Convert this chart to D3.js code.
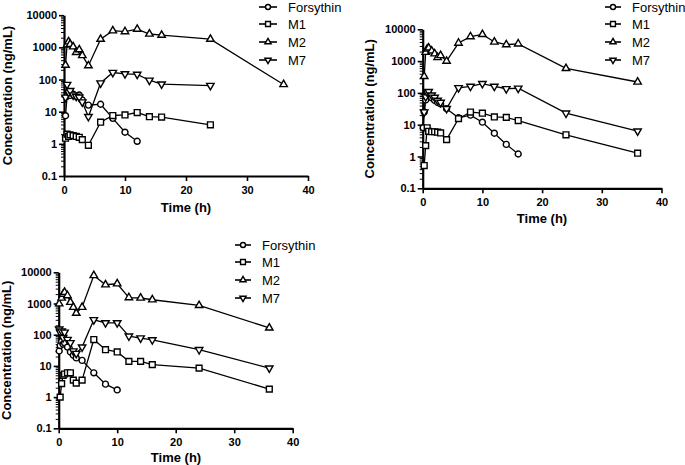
<!DOCTYPE html>
<html><head><meta charset="utf-8">
<script src="https://cdn.jsdelivr.net/npm/d3@7"></script>
<style>body{margin:0;background:#fff}svg{display:block}</style>
</head><body>
<svg id="c" width="685" height="465"></svg>
<script>
// ---- data (time h, concentration ng/mL) ----
const seriesNames = ["Forsythin","M1","M2","M7"];
const xTicks = [0,10,20,30,40];
const yTicks = [0.1,1,10,100,1000,10000];
const yTickLabels = ["0.1","1","10","100","1000","10000"];
const xTitle = "Time (h)";
const yTitle = "Concentration (ng/mL)";

const p1Forsythin = [[0.25,7.5],[0.5,30],[0.75,40],[1,32],[1.5,35],[2,30],[2.5,33],[3,23],[4,16],[6,17],[8,6.2],[10,2.3],[12,1.2]];
const p1M1 = [[0.25,1.5],[0.5,2.0],[0.75,1.7],[1,1.9],[1.5,1.8],[2,1.7],[2.5,1.6],[3,1.35],[4,0.9],[6,4.7],[8,7.6],[10,7.9],[12,9.4],[14,7],[16,6.8],[24,3.9]];
const p1M2 = [[0.25,280],[0.5,1200],[0.75,1500],[1,1250],[1.5,1050],[2,700],[2.5,850],[3,560],[4,270],[6,1800],[8,3300],[10,3100],[12,3700],[14,2600],[16,2400],[24,1800],[36,70]];
const p1M7 = [[0.25,28],[0.5,70],[0.75,40],[1,45],[1.5,33],[2,30],[2.5,28],[3,20],[4,7],[6,78],[8,165],[10,150],[12,145],[14,95],[16,72],[24,65]];

const p2Forsythin = [[0.083,8],[0.25,25],[0.5,60],[0.75,85],[1,95],[1.5,70],[2,58],[2.5,50],[3,45],[4,32],[6,16.5],[8,20],[10,12],[12,5.4],[14,2.4],[16,1.2]];
const p2M1 = [[0.25,0.52],[0.5,2.2],[0.75,8],[1,6.2],[1.5,6],[2,6],[2.5,5.8],[3,5.5],[4,3.4],[6,15.5],[8,25],[10,23],[12,17.5],[14,17],[16,13.5],[24,4.8],[36,1.27]];
const p2M2 = [[0.25,330],[0.5,1900],[0.75,2400],[1,2600],[1.5,2100],[2,1700],[2.5,1300],[3,1500],[4,1000],[6,3700],[8,5900],[10,6900],[12,4000],[14,3300],[16,3500],[24,590],[36,220]];
const p2M7 = [[0.25,25],[0.5,75],[0.75,105],[1,110],[1.5,85],[2,72],[2.5,58],[3,50],[4,32],[6,145],[8,160],[10,195],[12,160],[14,135],[16,140],[24,23],[36,6.3]];

const p3Forsythin = [[0.083,30],[0.25,45],[0.5,60],[0.75,50],[1,55],[1.5,40],[2,28],[2.5,22],[3,18],[4,15],[6,6],[8,2.6],[10,1.7]];
const p3M1 = [[0.25,1.0],[0.5,2.7],[0.75,5],[1,5.5],[1.5,6],[2,6],[2.5,3.5],[3,2.8],[4,3.5],[6,70],[8,33],[10,28],[12,14],[14,14],[16,11],[24,8.5],[36,1.8]];
const p3M2 = [[0.083,980],[0.5,1500],[0.75,2000],[1,2300],[1.5,1800],[2,1100],[2.5,760],[3,490],[4,760],[6,7900],[8,4000],[10,4300],[12,1550],[14,1500],[16,1320],[24,870],[36,165]];
const p3M7 = [[0.083,150],[0.25,120],[0.5,130],[0.75,80],[1,120],[1.5,70],[2,55],[2.5,30],[3,25],[4,40],[6,300],[8,240],[10,240],[12,90],[14,78],[16,68],[24,33],[36,8.5]];

// ---- layout ----
const panels = [
  {x0:64, x1:308, yTop:15.2, yBot:176, series:[p1Forsythin,p1M1,p1M2,p1M7],
   yLab:[7,95.5], xLab:[186,212], leg:{x:259, w:18, tx:288, y:[7,24,42,60]}},
  {x0:422.7, x1:661.5, yTop:29.3, yBot:188.3, series:[p2Forsythin,p2M1,p2M2,p2M7],
   yLab:[369.5,108.8], xLab:[542,223], leg:{x:605, w:16, tx:632, y:[7,24,42,60]}},
  {x0:58.7, x1:292.7, yTop:272.3, yBot:428.3, series:[p3Forsythin,p3M1,p3M2,p3M7],
   yLab:[6.5,350.3], xLab:[176,462], leg:{x:235, w:16, tx:262, y:[245,262,280,298]}}
];
const symTypes = [d3.symbolCircle, d3.symbolSquare, d3.symbolTriangle, d3.symbolTriangle];
const symSizes = [28, 34, 24, 24];
const font = "'Liberation Sans', Arial, Helvetica, sans-serif";

const svg = d3.select("#c");

function marker(g, i, x, y, scale) {
  const p = d3.symbol().type(symTypes[i]).size(symSizes[i]*scale)();
  g.append("path").attr("d", p)
    .attr("transform", `translate(${x},${y})` + (i===3 ? " rotate(180)" : ""))
    .attr("fill", "#fff").attr("stroke", "#000").attr("stroke-width", 1.4);
}

const minorTicks = [];
for (let e=-1; e<4; e++) for (let k=2; k<10; k++) minorTicks.push(k*Math.pow(10,e));

panels.forEach(P => {
  const x = d3.scaleLinear().domain([0,40]).range([P.x0, P.x1]);
  const y = d3.scaleLog().domain([0.1,10000]).range([P.yBot, P.yTop]);
  const g = svg.append("g");

  // minor y ticks
  const ym = g.append("g").attr("transform", `translate(${P.x0},0)`)
    .call(d3.axisLeft(y).tickValues(minorTicks).tickSize(3).tickSizeOuter(0).tickFormat(""));
  ym.select(".domain").remove();
  ym.selectAll("line").attr("stroke-width", 1);

  // major y axis
  const ya = g.append("g").attr("transform", `translate(${P.x0},0)`)
    .call(d3.axisLeft(y).tickValues(yTicks).tickSize(5).tickSizeOuter(0).tickPadding(2)
      .tickFormat((d,i) => yTickLabels[i]));
  ya.select(".domain").attr("stroke-width", 2.2);
  ya.selectAll(".tick line").attr("stroke-width", 1.6);
  ya.selectAll("text").attr("font-family", font).attr("font-size", 11).attr("font-weight", "bold").attr("fill", "#000");

  // x axis
  const xa = g.append("g").attr("transform", `translate(0,${P.yBot})`)
    .call(d3.axisBottom(x).tickValues(xTicks).tickSize(5).tickSizeOuter(0).tickPadding(5));
  xa.select(".domain").attr("stroke-width", 2.2);
  xa.selectAll(".tick line").attr("stroke-width", 1.6);
  xa.selectAll("text").attr("font-family", font).attr("font-size", 11).attr("font-weight", "bold").attr("fill", "#000");

  // titles
  g.append("text").attr("transform", `translate(${P.yLab[0]},${P.yLab[1]}) rotate(-90)`)
    .attr("text-anchor", "middle").attr("dominant-baseline", "central")
    .attr("font-family", font).attr("font-size", 13).attr("font-weight", "bold").text(yTitle);
  g.append("text").attr("x", P.xLab[0]).attr("y", P.xLab[1])
    .attr("text-anchor", "middle")
    .attr("font-family", font).attr("font-size", 13).attr("font-weight", "bold").text(xTitle);

  // series
  const line = d3.line().x(d => x(d[0])).y(d => y(d[1]));
  P.series.forEach((s, i) => {
    g.append("path").datum(s).attr("d", line).attr("fill", "none")
      .attr("stroke", "#000").attr("stroke-width", 1.3);
  });
  P.series.forEach((s, i) => {
    s.forEach(d => marker(g, i, x(d[0]), y(d[1]), 1));
  });

  // legend
  seriesNames.forEach((n, i) => {
    const ly = P.leg.y[i];
    g.append("line").attr("x1", P.leg.x).attr("x2", P.leg.x + P.leg.w)
      .attr("y1", ly).attr("y2", ly).attr("stroke", "#000").attr("stroke-width", 1.6);
    marker(g, i, P.leg.x + P.leg.w/2, ly, 0.7);
    g.append("text").attr("x", P.leg.tx).attr("y", ly).attr("dominant-baseline", "central")
      .attr("font-family", font).attr("font-size", 13).attr("fill", "#000").text(n);
  });
});
</script>
</body></html>
